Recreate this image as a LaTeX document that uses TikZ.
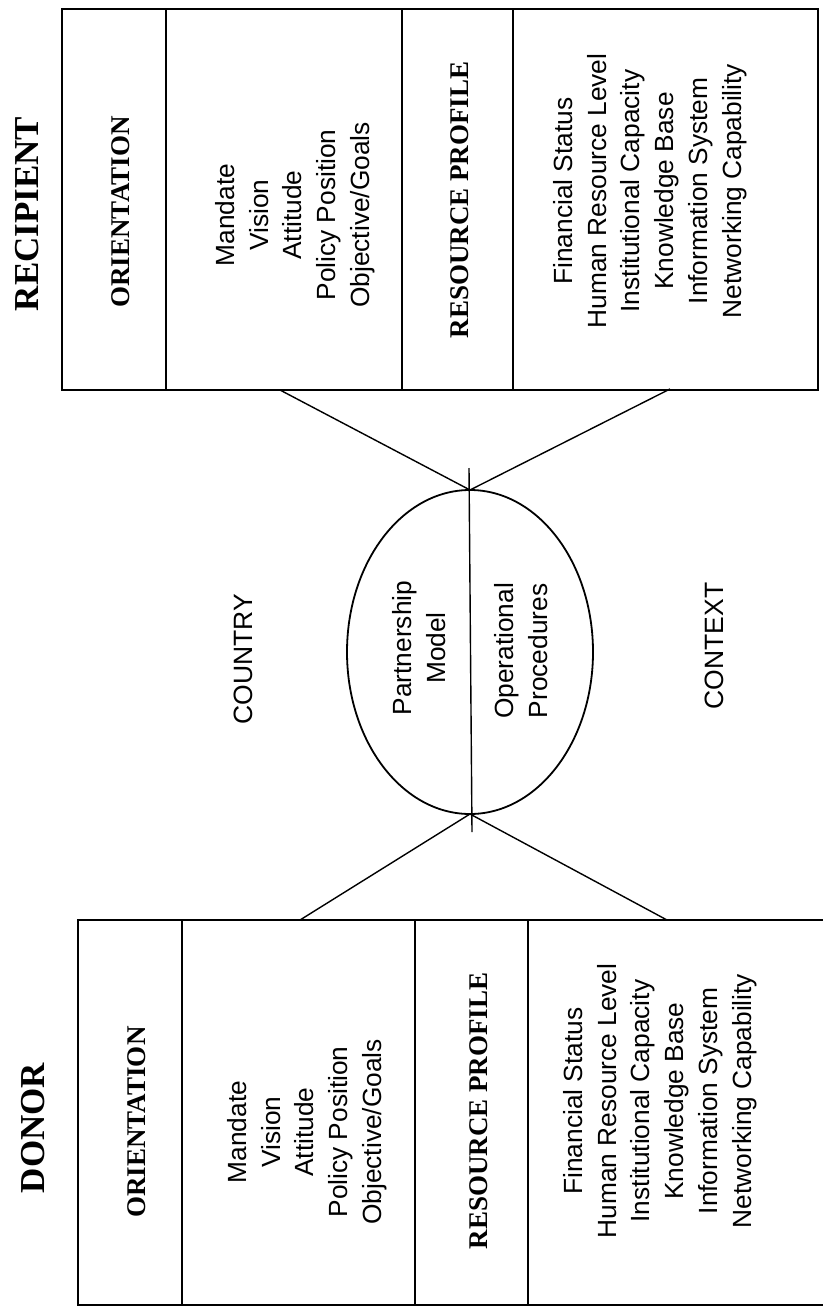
\documentclass[tikz,border=0pt]{standalone}
\usepackage{fontspec}
\setmainfont{Liberation Serif}
\newfontfamily\arialf{Liberation Sans}
\usetikzlibrary{shapes.geometric}
\begin{document}
\begin{tikzpicture}[x=1pt,y=-1pt,
  every node/.style={inner sep=0pt, outer sep=0pt},
  col/.style={draw, line width=1.5pt, rectangle, inner sep=0pt, anchor=north west},
  hdr/.style={font=\fontsize{35}{40}\selectfont\bfseries, rotate=90},
  sub/.style={font=\fontsize{27}{32}\selectfont\bfseries, rotate=90},
  item/.style={font=\arialf\fontsize{26.3}{33.8}\selectfont, rotate=90, align=center},
  ctx/.style={font=\arialf\fontsize{26.5}{32}\selectfont, rotate=90},
  conn/.style={line width=1.4pt},
]
\useasboundingbox (0,0) rectangle (823,1308);

% recipient box columns
\node[col, minimum width=104pt, minimum height=381pt] (rc1) at (62,9) {};
\node[col, minimum width=236pt, minimum height=381pt] (rc2) at (166,9) {};
\node[col, minimum width=111pt, minimum height=381pt] (rc3) at (402,9) {};
\node[col, minimum width=305pt, minimum height=381pt] (rc4) at (513,9) {};

% donor box columns
\node[col, minimum width=104pt, minimum height=385pt] (dc1) at (78,920) {};
\node[col, minimum width=233pt, minimum height=385pt] (dc2) at (182,920) {};
\node[col, minimum width=113pt, minimum height=385pt] (dc3) at (415,920) {};
\coordinate (dtr) at (823,920);
\coordinate (dbr) at (823,1305);
\draw[line width=1.5pt] (dc3.north east) -- (dtr);
\draw[line width=1.5pt] (dc3.south east) -- (dbr);

% ellipse
\node[draw, ellipse, minimum width=246pt, minimum height=324pt, line width=1.8pt] (ell) at (470,652) {};
\coordinate (vt) at (469,468);
\coordinate (vb) at (472,832);
\draw[conn] (vt) -- (vb);

% connectors
\coordinate (ra) at (280,390);
\coordinate (rb) at (670,389);
\coordinate (da) at (300,920);
\coordinate (db) at (667,920);
\draw[conn] (ra) -- (ell.north) -- (rb);
\draw[conn] (da) -- (ell.south) -- (db);

% titles
\node[hdr] (rec) at (27,214) {RECIPIENT};
\node[hdr] (don) at (33,1128) {DONOR};

% recipient texts
\node[sub] (rori) at (121,212) {ORIENTATION};
\node[item] (rman) at (295,215) {Mandate\\Vision\\Attitude\\Policy Position\\Objective/Goals};
\node[sub] (rres) at (460,200) {RESOURCE PROFILE};
\node[item] (rfin) at (650,191) {Financial Status\\Human Resource Level\\Institutional Capacity\\Knowledge Base\\Information System\\Networking Capability};

% donor texts
\node[sub] (dori) at (137,1122) {ORIENTATION};
\node[item] (dman) at (307,1132) {Mandate\\Vision\\Attitude\\Policy Position\\Objective/Goals};
\node[sub] (dres) at (479,1111) {RESOURCE PROFILE};
\node[item] (dfin) at (660,1101) {Financial Status\\Human Resource Level\\Institutional Capacity\\Knowledge Base\\Information System\\Networking Capability};

% context
\node[ctx] (cty) at (243,659) {COUNTRY};
\node[ctx] (ctx) at (714,646) {CONTEXT};
\node[item] (pm) at (419,648) {Partnership\\Model};
\node[item] (op) at (521,651) {Operational\\Procedures};
\end{tikzpicture}
\end{document}
